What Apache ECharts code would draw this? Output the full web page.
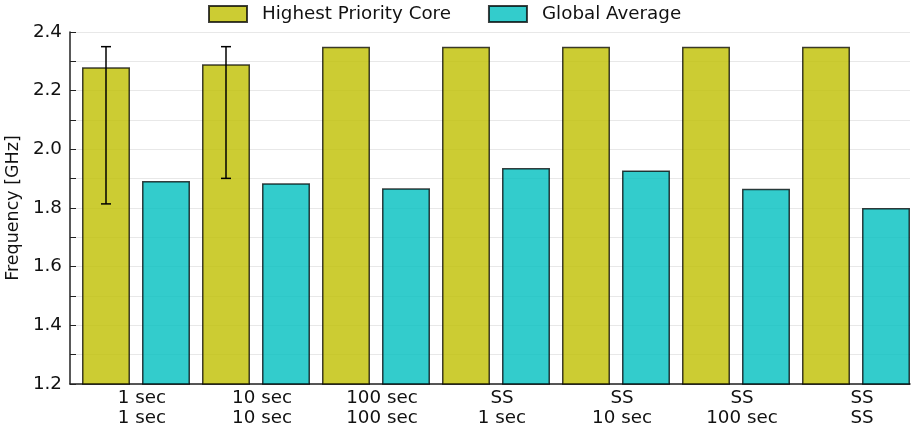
<!DOCTYPE html>
<html>
<head>
<meta charset="utf-8">
<script src="https://cdn.jsdelivr.net/npm/echarts@6/dist/echarts.min.js"></script>
<style>
  html, body { margin: 0; padding: 0; background: #fff; }
  #chart { width: 912px; height: 432px; }
</style>
</head>
<body>
<div id="chart"></div>
<script>
// Tick labels for each scenario (two lines each)
const labelTop = ['1 sec', '10 sec', '100 sec', 'SS', 'SS', 'SS', 'SS'];
const labelBottom = ['1 sec', '10 sec', '100 sec', '1 sec', '10 sec', '100 sec', 'SS'];

// Frequencies in GHz
const highestPriority = [2.28, 2.29, 2.35, 2.35, 2.35, 2.35, 2.35];
const globalAverage = [1.892, 1.884, 1.867, 1.936, 1.928, 1.866, 1.800];

// Error range on the highest-priority core (null = no error bar)
const errLow = [1.814, 1.901, null, null, null, null, null];
const errHigh = [2.35, 2.35, null, null, null, null, null];

// Positions of the bars within each scenario slot
const hpOffset = 0.3;
const avgOffset = 0.8;
const labelOffset = 0.6;

const FONT = 'DejaVu Sans';
const FS = 18.3;
const TEXT = '#111';

const hpData = highestPriority.map((v, i) => [i + hpOffset, v]);
const avgData = globalAverage.map((v, i) => [i + avgOffset, v]);
const errData = [];
errLow.forEach((lo, i) => {
  if (lo !== null) errData.push([i + hpOffset, lo, errHigh[i]]);
});
const labelValues = labelTop.map((_, i) => i + labelOffset);

const chart = echarts.init(document.getElementById('chart'), null, { renderer: 'canvas' });

chart.setOption({
  animation: false,
  backgroundColor: '#fff',
  textStyle: { fontFamily: FONT, color: TEXT },
  legend: {
    left: 208,
    top: 4,
    padding: 0,
    itemWidth: 38,
    itemHeight: 16,
    itemGap: 37,
    icon: 'rect',
    textStyle: { fontFamily: FONT, fontSize: FS, color: TEXT, lineHeight: 20, padding: [0, 0, 0, 10] },
    data: ['Highest Priority Core', 'Global Average']
  },
  grid: {
    left: 70,
    right: 2,
    top: 32,
    bottom: 48,
    containLabel: false,
    outerBoundsMode: 'none'
  },
  xAxis: {
    type: 'value',
    min: 0,
    max: 7,
    axisLine: { show: true, onZero: false, lineStyle: { color: '#222', width: 1.5 } },
    axisTick: { show: false },
    splitLine: { show: false },
    axisLabel: {
      customValues: labelValues,
      margin: 4,
      fontFamily: FONT,
      fontSize: FS,
      lineHeight: 20.5,
      color: TEXT,
      formatter: function (v) {
        const i = Math.round(v - labelOffset);
        return labelTop[i] + '\n' + labelBottom[i];
      }
    }
  },
  yAxis: {
    type: 'value',
    min: 1.2,
    max: 2.4,
    interval: 0.1,
    name: 'Frequency [GHz]',
    nameLocation: 'middle',
    nameGap: 36,
    nameTextStyle: { fontFamily: FONT, fontSize: 17.5, color: TEXT },
    axisLine: { show: true, lineStyle: { color: '#222', width: 1.5 } },
    axisTick: { show: true, inside: true, length: 6, lineStyle: { color: '#222', width: 1 } },
    splitLine: { show: true, lineStyle: { color: '#e8e8e8', width: 1 } },
    axisLabel: {
      margin: 8,
      fontFamily: FONT,
      fontSize: FS,
      color: TEXT,
      formatter: function (v) {
        const t = Math.round(v * 10);
        return t % 2 === 0 ? (t / 10).toFixed(1) : '';
      }
    }
  },
  series: [
    {
      name: 'Highest Priority Core',
      type: 'bar',
      barWidth: 48,
      barGap: '-100%',
      data: hpData,
      itemStyle: { color: 'rgba(191,191,0,0.8)', borderColor: 'rgba(0,0,0,0.75)', borderWidth: 1.5 }
    },
    {
      name: 'Global Average',
      type: 'bar',
      barWidth: 48,
      barGap: '-100%',
      data: avgData,
      itemStyle: { color: 'rgba(0,191,191,0.8)', borderColor: 'rgba(0,0,0,0.75)', borderWidth: 1.5 }
    },
    {
      name: 'errors',
      type: 'custom',
      z: 5,
      data: errData,
      renderItem: function (params, api) {
        const x = api.value(0);
        const lo = api.coord([x, api.value(1)]);
        const hi = api.coord([x, api.value(2)]);
        const cap = 5;
        const style = { stroke: '#000', lineWidth: 1.5 };
        return {
          type: 'group',
          children: [
            { type: 'line', shape: { x1: lo[0], y1: lo[1], x2: hi[0], y2: hi[1] }, style: style },
            { type: 'line', shape: { x1: lo[0] - cap, y1: lo[1], x2: lo[0] + cap, y2: lo[1] }, style: style },
            { type: 'line', shape: { x1: hi[0] - cap, y1: hi[1], x2: hi[0] + cap, y2: hi[1] }, style: style }
          ]
        };
      }
    }
  ]
});
</script>
</body>
</html>
